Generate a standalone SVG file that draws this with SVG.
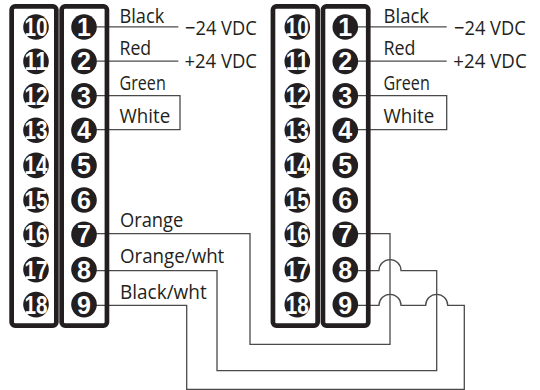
<svg xmlns="http://www.w3.org/2000/svg" width="540" height="390" viewBox="0 0 540 390">
<style>
.box{fill:none;stroke:#231f20;stroke-width:4.7}
.pin{fill:#231f20}
.num{fill:#fff;font-family:"Liberation Sans",Arial,sans-serif;font-weight:bold;font-size:25px;text-anchor:middle}
.wire{fill:none;stroke:#4a4a4a;stroke-width:1.3}
.lbl{fill:#231f20;font-family:"Open Sans","Liberation Sans",sans-serif;font-size:20px}
</style>
<defs>
<g id="terminals">
<rect class="box" x="11.65" y="6.35" width="44.7" height="319.3" rx="3.5"/>
<rect class="box" x="61.65" y="6.35" width="45.3" height="319.3" rx="3.5"/>
<circle class="pin" cx="36" cy="27" r="12.8"/><text class="num" x="36" y="36" textLength="23" lengthAdjust="spacingAndGlyphs">10</text>
<circle class="pin" cx="36" cy="61.4" r="12.8"/><text class="num" x="36" y="70.4" textLength="23" lengthAdjust="spacingAndGlyphs">11</text>
<circle class="pin" cx="36" cy="95.8" r="12.8"/><text class="num" x="36" y="104.8" textLength="23" lengthAdjust="spacingAndGlyphs">12</text>
<circle class="pin" cx="36" cy="130.2" r="12.8"/><text class="num" x="36" y="139.2" textLength="23" lengthAdjust="spacingAndGlyphs">13</text>
<circle class="pin" cx="36" cy="165.4" r="12.8"/><text class="num" x="36" y="174.4" textLength="23" lengthAdjust="spacingAndGlyphs">14</text>
<circle class="pin" cx="36" cy="200" r="12.8"/><text class="num" x="36" y="209" textLength="23" lengthAdjust="spacingAndGlyphs">15</text>
<circle class="pin" cx="36" cy="234.4" r="12.8"/><text class="num" x="36" y="243.4" textLength="23" lengthAdjust="spacingAndGlyphs">16</text>
<circle class="pin" cx="36" cy="269.6" r="12.8"/><text class="num" x="36" y="278.6" textLength="23" lengthAdjust="spacingAndGlyphs">17</text>
<circle class="pin" cx="36" cy="304.6" r="12.8"/><text class="num" x="36" y="313.6" textLength="23" lengthAdjust="spacingAndGlyphs">18</text>
<circle class="pin" cx="84" cy="27" r="12.8"/><text class="num" x="84" y="36">1</text>
<circle class="pin" cx="84" cy="61.4" r="12.8"/><text class="num" x="84" y="70.4">2</text>
<circle class="pin" cx="84" cy="95.8" r="12.8"/><text class="num" x="84" y="104.8">3</text>
<circle class="pin" cx="84" cy="130.2" r="12.8"/><text class="num" x="84" y="139.2">4</text>
<circle class="pin" cx="84" cy="165.4" r="12.8"/><text class="num" x="84" y="174.4">5</text>
<circle class="pin" cx="84" cy="200" r="12.8"/><text class="num" x="84" y="209">6</text>
<circle class="pin" cx="84" cy="234.4" r="12.8"/><text class="num" x="84" y="243.4">7</text>
<circle class="pin" cx="84" cy="269.6" r="12.8"/><text class="num" x="84" y="278.6">8</text>
<circle class="pin" cx="84" cy="304.6" r="12.8"/><text class="num" x="84" y="313.6">9</text>
</g>
</defs>
<rect width="540" height="390" fill="#fff"/>
<g id="connectors">
<path class="wire" d="M96,26.8 H178.3"/>
<path class="wire" d="M96,61.2 H178.3"/>
<path class="wire" d="M96,95.7 H180 V129.6 H96"/>
<path class="wire" d="M96,233.6 H250 V344.3 H390 V233.6 H357"/>
<path class="wire" d="M96,270.6 H217 V370.7 H436.7 V270.6 H401 A11,11 0 0 0 379,270.6 H357"/>
<path class="wire" d="M96,305.3 H186.7 V389.3 H464.3 V305.3 H447.7 A11,11 0 0 0 425.7,305.3 H401 A11,11 0 0 0 379,305.3 H357"/>
<path class="wire" d="M357,26.8 H446.7"/>
<path class="wire" d="M357,61.2 H446.7"/>
<path class="wire" d="M357,95.7 H446.7 V129.6 H357"/>
</g>
<g id="block-left">
<use href="#terminals"/>
</g>
<g id="block-right">
<use href="#terminals" x="261.3"/>
</g>
<g id="labels-left">
<text class="lbl" x="119.5" y="22.7" textLength="44.7" lengthAdjust="spacingAndGlyphs">Black</text>
<text class="lbl" x="119.5" y="55" textLength="31.7" lengthAdjust="spacingAndGlyphs">Red</text>
<text class="lbl" x="119.5" y="90" textLength="46.3" lengthAdjust="spacingAndGlyphs">Green</text>
<text class="lbl" x="119.5" y="122.5" textLength="50.7" lengthAdjust="spacingAndGlyphs">White</text>
<text class="lbl" x="185" y="34.6" textLength="71.7" lengthAdjust="spacingAndGlyphs">−24 VDC</text>
<text class="lbl" x="184.5" y="68" textLength="72.5" lengthAdjust="spacingAndGlyphs">+24 VDC</text>
<text class="lbl" x="120" y="226.5" textLength="63.3" lengthAdjust="spacingAndGlyphs">Orange</text>
<text class="lbl" x="120" y="262.7" textLength="104.3" lengthAdjust="spacingAndGlyphs">Orange/wht</text>
<text class="lbl" x="120" y="299.3" textLength="86.7" lengthAdjust="spacingAndGlyphs">Black/wht</text>
</g>
<g id="labels-right">
<text class="lbl" x="383.5" y="22.7" textLength="45.5" lengthAdjust="spacingAndGlyphs">Black</text>
<text class="lbl" x="383.5" y="55" textLength="32" lengthAdjust="spacingAndGlyphs">Red</text>
<text class="lbl" x="383.5" y="90" textLength="46.3" lengthAdjust="spacingAndGlyphs">Green</text>
<text class="lbl" x="383.5" y="122.5" textLength="50.7" lengthAdjust="spacingAndGlyphs">White</text>
<text class="lbl" x="454" y="34.6" textLength="71.7" lengthAdjust="spacingAndGlyphs">−24 VDC</text>
<text class="lbl" x="453.3" y="68" textLength="73.4" lengthAdjust="spacingAndGlyphs">+24 VDC</text>
</g>
</svg>
